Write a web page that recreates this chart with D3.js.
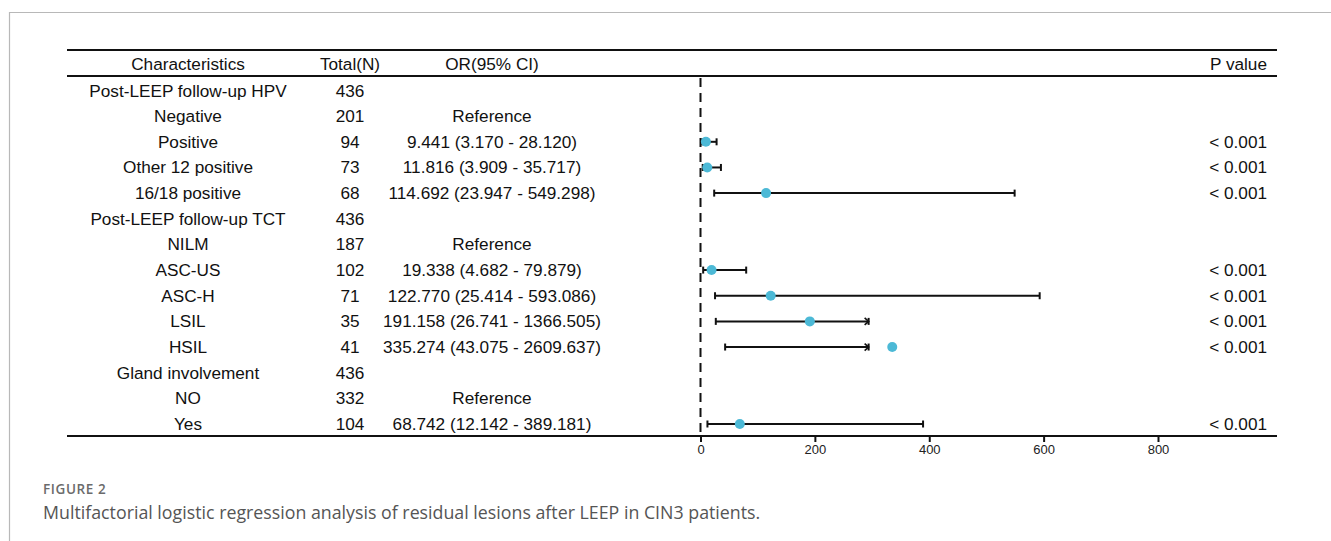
<!DOCTYPE html>
<html>
<head>
<meta charset="utf-8">
<script src="https://cdn.jsdelivr.net/npm/d3@7"></script>
<style>
  body { margin: 0; background: #fff; }
  svg { display: block; }
  .tbl { font-family: "Liberation Sans", Arial, sans-serif; font-size: 17.2px; fill: #111; }
  .tick text { font-family: "Liberation Sans", Arial, sans-serif; font-size: 13px; fill: #222; }
</style>
</head>
<body>
<svg id="chart" width="1331" height="541"></svg>
<script>
// rows of the table, top to bottom
let labels = ['Post-LEEP follow-up HPV', 'Negative', 'Positive', 'Other 12 positive', '16/18 positive',
    'Post-LEEP follow-up TCT', 'NILM', 'ASC-US', 'ASC-H', 'LSIL', 'HSIL',
    'Gland involvement', 'NO', 'Yes']
let totals = [436, 201, 94, 73, 68, 436, 187, 102, 71, 35, 41, 436, 332, 104]
let or_text = ['', 'Reference', '9.441 (3.170 - 28.120)', '11.816 (3.909 - 35.717)', '114.692 (23.947 - 549.298)',
    '', 'Reference', '19.338 (4.682 - 79.879)', '122.770 (25.414 - 593.086)', '191.158 (26.741 - 1366.505)',
    '335.274 (43.075 - 2609.637)', '', 'Reference', '68.742 (12.142 - 389.181)']
let p_text = ['', '', '< 0.001', '< 0.001', '< 0.001', '', '', '< 0.001', '< 0.001', '< 0.001', '< 0.001', '', '', '< 0.001']
// plotted estimates (null = no mark)
let est = [null, null, 9.441, 11.816, 114.692, null, null, 19.338, 122.770, 191.158, 335.274, null, null, 68.742]
let lo  = [null, null, 3.170, 3.909, 23.947, null, null, 4.682, 25.414, 26.741, 43.075, null, null, 12.142]
let hi  = [null, null, 28.120, 35.717, 549.298, null, null, 79.879, 593.086, 1366.505, 2609.637, null, null, 389.181]
let x_ticks = [0, 200, 400, 600, 800]
// upper bounds over the axis range are cut short with an arrow, as in the figure
let x_max = 1000
let x_cut = 294

let headers = ['Characteristics', 'Total(N)', 'OR(95% CI)', 'P value']

let tbl_l = 67, tbl_r = 1277
let line_top = 50, line_head = 76, line_bot = 436
let col_char = 188, col_n = 350, col_or = 492, col_p = 1267

let svg = d3.select('#chart')

// figure frame
svg.append('path')
    .attr('d', 'M9.5,541 V12.5 H1331')
    .attr('fill', 'none')
    .attr('stroke', '#b8b8b8')
    .attr('stroke-width', 1.2)

let x = d3.scaleLinear().domain([0, 800]).range([700.5, 1158])
let y = d3.scalePoint().domain(d3.range(labels.length)).range([90.5, 424])

// table rules
;[line_top, line_head, line_bot].forEach(ly => {
    svg.append('line')
        .attr('x1', tbl_l).attr('x2', tbl_r)
        .attr('y1', ly).attr('y2', ly)
        .attr('stroke', '#111')
        .attr('stroke-width', 2.2)
})

// header
let head_x = [col_char, col_n, col_or, col_p]
let head_anchor = ['middle', 'middle', 'middle', 'end']
headers.forEach((h, i) => {
    svg.append('text').classed('tbl', true)
        .attr('x', head_x[i]).attr('y', 63.5)
        .attr('dy', '0.35em')
        .attr('text-anchor', head_anchor[i])
        .text(h)
})

// table body
let rows = svg.append('g').selectAll('g')
    .data(labels.map((d, i) => i))
    .join('g')
    .attr('transform', i => `translate(0,${y(i)})`)

rows.append('text').classed('tbl', true)
    .attr('x', col_char).attr('dy', '0.35em').attr('text-anchor', 'middle')
    .text(i => labels[i])
rows.append('text').classed('tbl', true)
    .attr('x', col_n).attr('dy', '0.35em').attr('text-anchor', 'middle')
    .text(i => totals[i])
rows.append('text').classed('tbl', true)
    .attr('x', col_or).attr('dy', '0.35em').attr('text-anchor', 'middle')
    .text(i => or_text[i])
rows.append('text').classed('tbl', true)
    .attr('x', col_p).attr('dy', '0.35em').attr('text-anchor', 'end')
    .text(i => p_text[i])

// reference line at 0
svg.append('line')
    .attr('x1', x(0)).attr('x2', x(0))
    .attr('y1', line_head + 2).attr('y2', line_bot)
    .attr('stroke', '#111')
    .attr('stroke-width', 2)
    .attr('stroke-dasharray', '9,6')

// error bars and points
let marks = svg.append('g').selectAll('g')
    .data(labels.map((d, i) => i).filter(i => est[i] !== null))
    .join('g')
    .attr('transform', i => `translate(0,${y(i)})`)

let clipped = i => hi[i] > x_max
let upper = i => clipped(i) ? x_cut : hi[i]
let cap = 3.5
marks.append('line')
    .attr('x1', i => x(lo[i])).attr('x2', i => x(upper(i)))
    .attr('stroke', '#111').attr('stroke-width', 2)
marks.append('line')
    .attr('x1', i => x(lo[i])).attr('x2', i => x(lo[i]))
    .attr('y1', -cap).attr('y2', cap)
    .attr('stroke', '#111').attr('stroke-width', 2)
marks.append('line')
    .attr('x1', i => x(upper(i))).attr('x2', i => x(upper(i)))
    .attr('y1', -cap).attr('y2', cap)
    .attr('stroke', '#111').attr('stroke-width', 2)
// small arrow head on cut bars
marks.filter(clipped).append('path')
    .attr('d', i => `M${x(upper(i)) - 4},${-cap} L${x(upper(i))},0 L${x(upper(i)) - 4},${cap}`)
    .attr('fill', 'none')
    .attr('stroke', '#111').attr('stroke-width', 1.6)
marks.append('circle')
    .attr('cx', i => x(est[i]))
    .attr('r', 5)
    .attr('fill', '#4cb9d6')

// x axis on the bottom rule
let axis = svg.append('g')
    .attr('transform', `translate(0,${line_bot})`)
    .call(d3.axisBottom(x).tickValues(x_ticks).tickSize(6).tickPadding(3))
axis.select('.domain').remove()
axis.selectAll('.tick line').attr('stroke', '#111').attr('stroke-width', 2)

// caption
svg.append('text')
    .attr('x', 43).attr('y', 494)
    .attr('font-family', '"Open Sans", sans-serif')
    .attr('font-size', 13.5)
    .attr('font-weight', 600)
    .attr('letter-spacing', 0.6)
    .attr('fill', '#6b6b6b')
    .text('FIGURE 2')
svg.append('text')
    .attr('x', 43).attr('y', 519)
    .attr('font-family', '"Open Sans", sans-serif')
    .attr('font-size', 17.8)
    .attr('fill', '#555')
    .text('Multifactorial logistic regression analysis of residual lesions after LEEP in CIN3 patients.')
</script>
</body>
</html>
